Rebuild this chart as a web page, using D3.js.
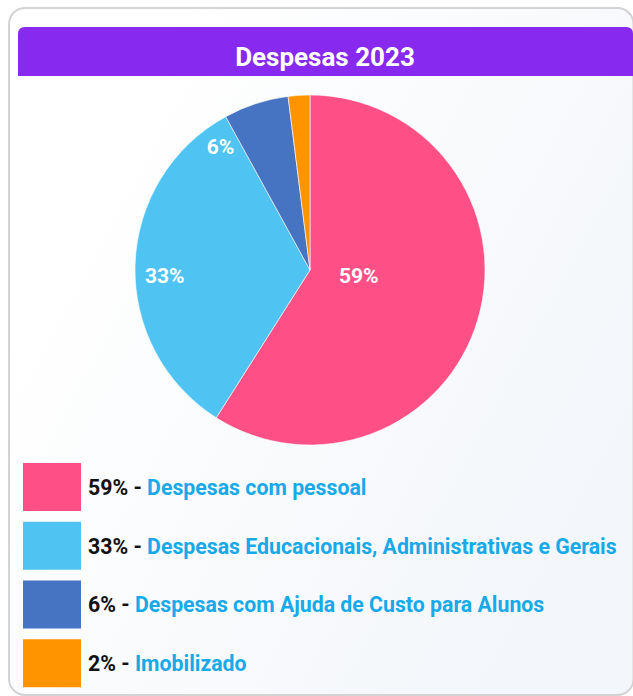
<!DOCTYPE html>
<html>
<head>
<meta charset="utf-8">
<script src="https://cdn.jsdelivr.net/npm/d3@7"></script>
<style>
  html, body { margin: 0; padding: 0; background: #fff; }
  svg { display: block; }
  text { font-family: Roboto, "Open Sans", sans-serif; }
</style>
</head>
<body>
<svg id="chart" width="633" height="696"></svg>
<script>
// Despesas 2023 — share of spending by group (percent)
const title = "Despesas 2023";
const categories = [
  "Despesas com pessoal",
  "Despesas Educacionais, Administrativas e Gerais",
  "Despesas com Ajuda de Custo para Alunos",
  "Imobilizado"
];
const values = [59, 33, 6, 2];
const colors = ["#fe4f87", "#4fc4f2", "#4673c2", "#ff9400"];

// Where each in-slice label sits: angle in degrees (clockwise from top) and
// distance from the centre as a fraction of the radius. null = no label.
const labelPlacement = [
  { angle: 96, dist: 0.28 },
  { angle: 268, dist: 0.83 },
  { angle: 324, dist: 0.87 },
  null
];

const W = 633, H = 696;
const svg = d3.select("#chart");

// card background with a faint cool tint toward the lower right
const defs = svg.append("defs");
const grad = defs.append("linearGradient").attr("id", "cardBg")
  .attr("x1", 0).attr("y1", 0).attr("x2", 1).attr("y2", 0.6);
grad.append("stop").attr("offset", "0.2").attr("stop-color", "#ffffff");
grad.append("stop").attr("offset", "1").attr("stop-color", "#f3f6fa");

svg.append("rect")
  .attr("x", 9).attr("y", 8).attr("width", 624.5).attr("height", 687)
  .attr("rx", 16)
  .attr("fill", "url(#cardBg)")
  .attr("stroke", "#d3d3d3").attr("stroke-width", 2);

// header bar, rounded only at the top
const hx = 18, hy = 27, hw = 615, hh = 49, hr = 7;
svg.append("path")
  .attr("d", `M${hx},${hy + hh} V${hy + hr} Q${hx},${hy} ${hx + hr},${hy} H${hx + hw - hr} Q${hx + hw},${hy} ${hx + hw},${hy + hr} V${hy + hh} Z`)
  .attr("fill", "#8729ef");

svg.append("text")
  .attr("x", 325).attr("y", 66)
  .attr("text-anchor", "middle")
  .attr("fill", "#fff")
  .attr("font-size", 26).attr("font-weight", 700)
  .text(title);

// pie
const cx = 310, cy = 270, R = 175;
const pie = d3.pie().sort(null).value(d => d)(values);
const arc = d3.arc().innerRadius(0).outerRadius(R);
const g = svg.append("g").attr("transform", `translate(${cx},${cy})`);

g.selectAll("path.slice")
  .data(pie)
  .join("path")
  .attr("class", "slice")
  .attr("d", arc)
  .attr("fill", (d, i) => colors[i])
  .attr("stroke", "#fff").attr("stroke-width", 0.6);

g.selectAll("text.pct")
  .data(pie.filter((d, i) => labelPlacement[i]))
  .join("text")
  .attr("class", "pct")
  .attr("transform", d => {
    const p = labelPlacement[d.index];
    const a = p.angle * Math.PI / 180;
    return `translate(${Math.sin(a) * p.dist * R},${-Math.cos(a) * p.dist * R})`;
  })
  .attr("text-anchor", "middle")
  .attr("dy", "0.36em")
  .attr("fill", "#fff")
  .attr("font-size", 21).attr("font-weight", 700)
  .text(d => `${d.data}%`);

// legend
const legendY = d3.scaleBand().domain(d3.range(categories.length)).range([458, 683]).paddingInner(0.17);
const leg = svg.append("g");
const rows = leg.selectAll("g.row")
  .data(categories)
  .join("g")
  .attr("class", "row")
  .attr("transform", (d, i) => `translate(0,${legendY(i)})`);

rows.append("rect")
  .attr("x", 23).attr("y", 5)
  .attr("width", 58).attr("height", 48)
  .attr("fill", (d, i) => colors[i]);

const lt = rows.append("text")
  .attr("transform", "translate(88,37) scale(0.946,1)")
  .attr("font-size", 22.5);
lt.append("tspan").attr("fill", "#111").attr("font-weight", 700)
  .text((d, i) => `${values[i]}% - `);
lt.append("tspan").attr("fill", "#17a9e8").attr("font-weight", 700)
  .text(d => d);
</script>
</body>
</html>
